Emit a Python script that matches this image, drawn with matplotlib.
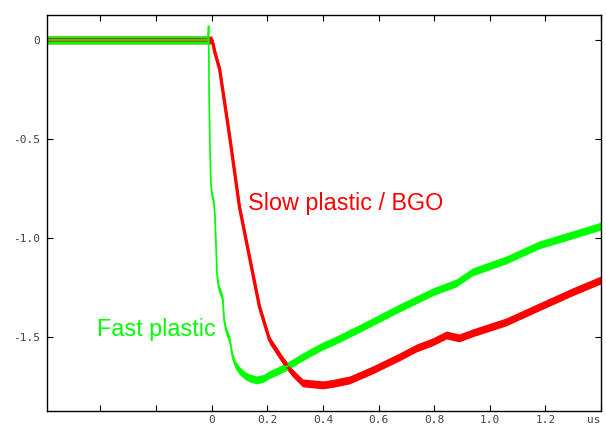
import numpy as np
import matplotlib
matplotlib.use('Agg')
import matplotlib.pyplot as plt

# traces (time in us, amplitude)
fast_t = [-0.59, -0.02, -0.013, -0.011, -0.009, -0.006, -0.003, 0.001, 0.004, 0.008,
          0.012, 0.016, 0.019, 0.025, 0.033, 0.040, 0.045, 0.052, 0.065, 0.075,
          0.085, 0.10, 0.12, 0.136, 0.162, 0.185, 0.208, 0.24, 0.269, 0.316,
          0.36, 0.40, 0.434, 0.556, 0.675, 0.794, 0.88, 0.937, 1.059, 1.178,
          1.296, 1.40]
fast_v = [0.0, 0.0, 0.0, 0.07, -0.3, -0.55, -0.72, -0.78, -0.80, -0.82,
          -0.90, -1.05, -1.18, -1.25, -1.28, -1.31, -1.42, -1.47, -1.515, -1.60,
          -1.64, -1.67, -1.695, -1.707, -1.717, -1.71, -1.69, -1.67, -1.65, -1.61,
          -1.575, -1.545, -1.525, -1.44, -1.354, -1.273, -1.227, -1.172, -1.111, -1.035,
          -0.985, -0.94]

slow_t = [-0.59, 0.0, 0.005, 0.011, 0.029, 0.047, 0.065, 0.10, 0.136, 0.172,
          0.208, 0.255, 0.291, 0.327, 0.40, 0.434, 0.496, 0.578, 0.675, 0.736,
          0.794, 0.844, 0.89, 0.937, 1.059, 1.178, 1.296, 1.40]
slow_v = [0.0, 0.0, -0.02, -0.06, -0.15, -0.32, -0.49, -0.843, -1.096, -1.348,
          -1.515, -1.616, -1.682, -1.732, -1.742, -1.735, -1.717, -1.667, -1.601, -1.556,
          -1.525, -1.49, -1.505, -1.48, -1.424, -1.348, -1.273, -1.212]

xticks = [-0.4, -0.2, 0, 0.2, 0.4, 0.6, 0.8, 1.0, 1.2, 1.4]
xlabels = ['', '', '0', '0.2', '0.4', '0.6', '0.8', '1.0', '1.2', 'us']
yticks = [0, -0.5, -1.0, -1.5]
ylabels = ['0', '-0.5', '-1.0', '-1.5']

fig = plt.figure(figsize=(6.06, 4.28), dpi=100)
ax = fig.add_axes([0.0776, 0.0397, 0.9141, 0.9253])

band = 0.02  # half-width of the noise band
for t, v, c, lw in [(slow_t, slow_v, '#ff0000', 2.4), (fast_t, fast_v, '#00ff00', 1.2)]:
    t = np.array(t)
    v = np.array(v)
    ax.fill_between(t, v - band, v + band, color=c, lw=0)
    ax.plot(t, v, color=c, lw=lw)

ax.text(0.129, -0.859, 'Slow plastic / BGO', color='#ff0000', fontsize=16.8,
        family='Liberation Sans')
ax.text(-0.413, -1.495, 'Fast plastic', color='#00ff00', fontsize=16.8,
        family='Liberation Sans')

ax.set_xlim(-0.592, 1.397)
ax.set_ylim(-1.874, 0.126)
ax.set_xticks(xticks)
ax.set_xticklabels(xlabels)
ax.set_yticks(yticks)
ax.set_yticklabels(ylabels)
ax.tick_params(direction='in', length=4, width=0.8, top=True, right=True,
               labelsize=8, labelcolor='#404040')
ax.tick_params(axis='x', pad=3)
ax.tick_params(axis='y', pad=5)
for lab in ax.get_xticklabels() + ax.get_yticklabels():
    lab.set_family('DejaVu Sans Mono')
ax.get_xticklabels()[-1].set_horizontalalignment('right')
for s in ax.spines.values():
    s.set_linewidth(1.0)

fig.savefig('out.png', dpi=100)
